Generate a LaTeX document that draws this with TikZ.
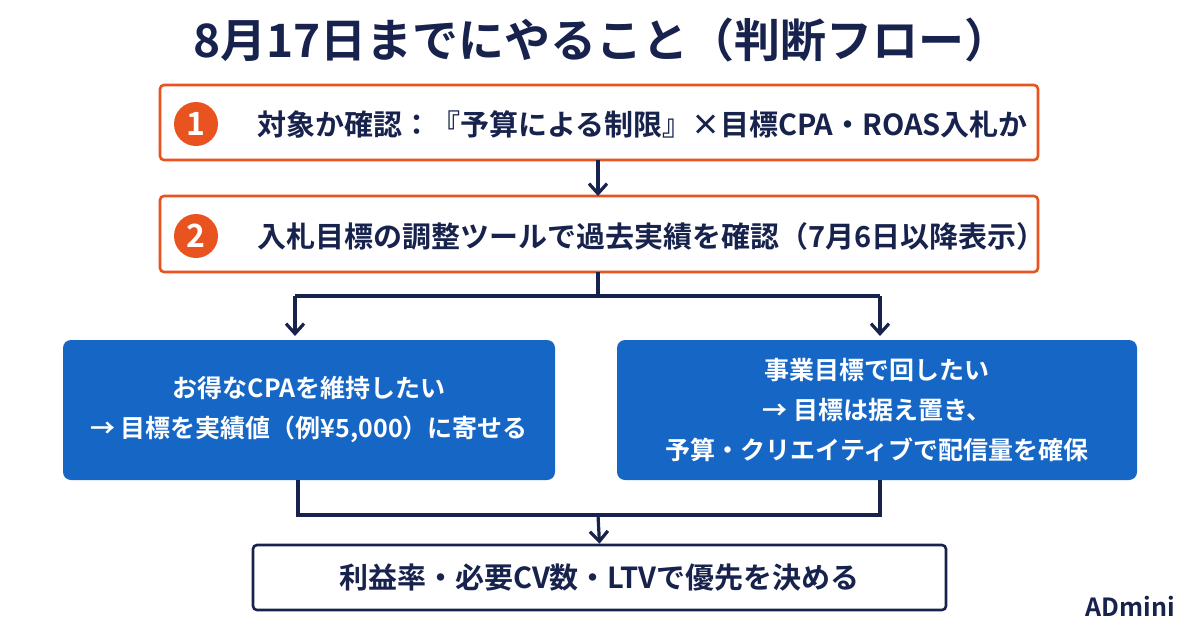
\documentclass[tikz,border=0pt]{standalone}
\usepackage{fontspec}
\setmainfont{Noto Sans CJK JP}[BoldFont={* Bold}]
\usetikzlibrary{arrows.meta}
\definecolor{navy}{HTML}{17224D}
\definecolor{org}{HTML}{E8531F}
\definecolor{blu}{HTML}{1666C5}
\begin{document}
\begin{tikzpicture}[x=0.5pt,y=-0.5pt,
 obox/.style={draw=org,line width=1.3pt,fill=white,rounded corners=2pt},
 num/.style={circle,fill=org,minimum size=22pt,inner sep=0pt,text=white,font=\bfseries\fontsize{16}{16}\selectfont},
 txt/.style={text=navy,font=\bfseries\fontsize{14.5}{17}\selectfont,anchor=west},
 bbox/.style={fill=blu,rounded corners=4pt,text=white,font=\bfseries\fontsize{12.5}{20}\selectfont,align=center},
 ln/.style={draw=navy,line width=1.6pt},
 arr/.style={ln,-{Straight Barb[length=5pt,width=9pt,line width=1.6pt]}}]
\useasboundingbox (0,0) rectangle (1200,628);
\node[text=navy,font=\bfseries\fontsize{23}{26}\selectfont] (title) at (602,40) {8月17日までにやること（判断フロー）};
\draw[obox] (160,85) rectangle (1038,160);
\coordinate (b1t) at (598,160);
\node[num] (n1) at (196,124) {1};
\node[txt] (t1) at (250,124) {対象か確認：『予算による制限』×目標CPA・ROAS入札か};
\draw[obox] (160,196) rectangle (1038,272);
\coordinate (b2t) at (598,196);
\node[num] (n2) at (196,236) {2};
\node[txt] (t2) at (250,236) {入札目標の調整ツールで過去実績を確認（7月6日以降表示）};
\draw[arr] (b1t) -- (b2t);
\node[bbox,minimum width=246pt,minimum height=70pt] (L) at (309,410) {お得なCPAを維持したい\\→ 目標を実績値（例¥5,000）に寄せる};
\node[bbox,minimum width=260pt,minimum height=70pt] (R) at (877,410) {事業目標で回したい\\→ 目標は据え置き、\\予算・クリエイティブで配信量を確保};
\node[draw=navy,line width=1.3pt,fill=white,rounded corners=2pt,minimum width=346.5pt,minimum height=32.5pt,text=navy,font=\bfseries\fontsize{14.5}{17}\selectfont] (B) at (599.5,577.5) {利益率・必要CV数・LTVで優先を決める};
\coordinate (s) at (598,296);
\draw[ln] (598,272) -- (s);
\draw[ln] (295,296) -- (880,296);
\draw[arr] (295,296) -- (295,336);
\draw[arr] (880,296) -- (880,336);
\draw[ln] (298,480) -- (298,515) -- (880,515) -- (880,480);
\draw[arr] (598,515) -- (B.north);
\node[text=navy,font=\bfseries\fontsize{12.5}{14}\selectfont,anchor=east] (logo) at (1182,606) {ADmini};
\end{tikzpicture}
\end{document}
